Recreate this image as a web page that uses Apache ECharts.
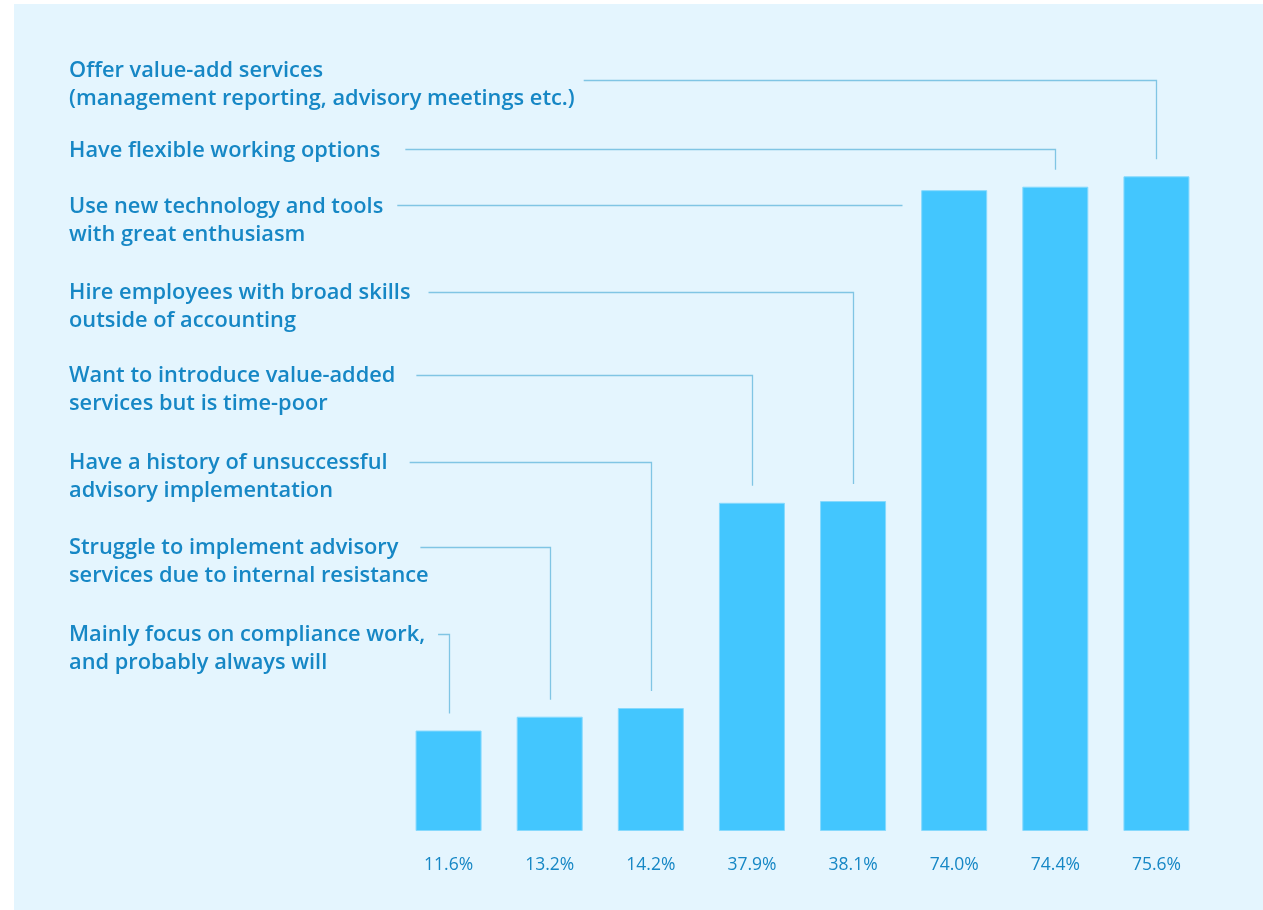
<!DOCTYPE html>
<html>
<head>
<meta charset="utf-8">
<script src="https://cdn.jsdelivr.net/npm/echarts@6/dist/echarts.min.js"></script>
<style>
  html, body { margin: 0; padding: 0; background: #ffffff; }
  #chart { width: 1263px; height: 910px; }
</style>
</head>
<body>
<div id="chart"></div>
<script>
// Survey statements, in bar order (left to right)
const categories = [
  ['Mainly focus on compliance work,', 'and probably always will'],
  ['Struggle to implement advisory', 'services due to internal resistance'],
  ['Have a history of unsuccessful', 'advisory implementation'],
  ['Want to introduce value-added', 'services but is time-poor'],
  ['Hire employees with broad skills', 'outside of accounting'],
  ['Use new technology and tools', 'with great enthusiasm'],
  ['Have flexible working options'],
  ['Offer value-add services', '(management reporting, advisory meetings etc.)']
];

// Share of respondents (%)
const values = [11.6, 13.2, 14.2, 37.9, 38.1, 74.0, 74.4, 75.6];

// Placement of each statement in the left-hand column (same order as categories)
// y: centre of first text line; lineDy: offset of the leader line; gap: space after text
const labelLayout = [
  { y: 634, lineDy: 0,  gap: 13 },
  { y: 547, lineDy: 0,  gap: 22 },
  { y: 462, lineDy: 0,  gap: 22 },
  { y: 375, lineDy: 0,  gap: 21 },
  { y: 292, lineDy: 0,  gap: 18 },
  { y: 206, lineDy: -1, gap: 14 },
  { y: 150, lineDy: -1, gap: 25 },
  { y: 70,  lineDy: 10, gap: 9 }
];

const TEXT_COLOR = '#1687c5';
const LINE_COLOR = '#80c5e4';
const BAR_COLOR = '#43c6fe';
const FONT_FAMILY = '"Open Sans", Lato, sans-serif';

// Size the statement font so one reference line sets ~311px wide
const ctx = document.createElement('canvas').getContext('2d');
ctx.font = '600 20px ' + FONT_FAMILY;
const fitSize = Math.round(20 * 311 / ctx.measureText('Have flexible working options').width * 10) / 10;
const LABEL_FONT = '600 ' + fitSize + 'px ' + FONT_FAMILY;
ctx.font = LABEL_FONT;
const textWidth = s => ctx.measureText(s).width;

const chart = echarts.init(document.getElementById('chart'), null, { renderer: 'canvas' });

const option = {
  backgroundColor: '#ffffff',
  animation: false,
  grid: { left: 398, width: 809, top: 138.2, bottom: 79 },
  xAxis: {
    type: 'category',
    data: categories.map(c => c.join(' ')),
    axisLine: { show: false },
    axisTick: { show: false },
    splitLine: { show: false },
    axisLabel: {
      margin: 25,
      fontFamily: FONT_FAMILY,
      fontSize: 17.5,
      color: TEXT_COLOR,
      formatter: (v, i) => values[i].toFixed(1) + '%'
    }
  },
  yAxis: {
    type: 'value',
    min: 0,
    max: 80,
    show: false
  },
  series: [{
    type: 'bar',
    data: values,
    barWidth: 66,
    itemStyle: { color: BAR_COLOR, borderColor: '#86d9fd', borderWidth: 1 },
    z: 3
  }],
  graphic: [{
    type: 'rect',
    shape: { x: 14, y: 4, width: 1249, height: 906 },
    style: { fill: '#e4f5fe' },
    z: -10,
    silent: true
  }]
};

chart.setOption(option);

const TEXT_X = 69;
const TEXT_DY = 1;
const LINE_H = 28;
const extra = [];

categories.forEach((lines, i) => {
  const lay = labelLayout[i];
  lines.forEach((s, k) => {
    extra.push({
      type: 'text',
      x: TEXT_X,
      y: lay.y + TEXT_DY + k * LINE_H,
      style: {
        text: s,
        font: LABEL_FONT,
        fill: TEXT_COLOR,
        verticalAlign: 'middle'
      },
      z: 5,
      silent: true
    });
  });

  // leader line: from the statement across to the bar, then down to just above it
  const lineY = lay.y + lay.lineDy;
  const spanned = lay.lineDy > LINE_H / 3 ? lines : [lines[0]];
  const startX = TEXT_X + Math.max(...spanned.map(textWidth)) + lay.gap;
  const top = chart.convertToPixel({ seriesIndex: 0 }, [i, values[i]]);
  const cx = Math.round(top[0]) + 0.5;
  const ly = Math.round(lineY) + 0.5;
  let points;
  if (i === 5) {
    points = [[startX, ly], [cx - 33 - 19, ly]];
  } else {
    points = [[startX, ly], [cx, ly], [cx, top[1] - 17]];
  }
  extra.push({
    type: 'polyline',
    shape: { points },
    style: { stroke: LINE_COLOR, lineWidth: 1.3, fill: null },
    z: 4,
    silent: true
  });
});

chart.setOption({ graphic: option.graphic.concat(extra) });
</script>
</body>
</html>
